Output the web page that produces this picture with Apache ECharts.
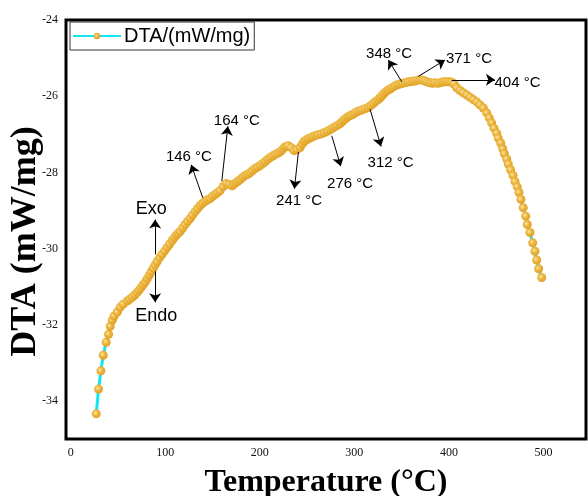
<!DOCTYPE html>
<html>
<head>
<meta charset="utf-8">
<script src="https://cdn.jsdelivr.net/npm/echarts@6/dist/echarts.min.js"></script>
<style>
  html, body { margin: 0; padding: 0; background: #fff; }
  #chart { width: 588px; height: 496px; }
</style>
</head>
<body>
<div id="chart"></div>
<script>
// temperature (°C) and DTA signal (mW/mg)
const temperature = [
  27.0, 29.4, 31.9, 34.4, 37.5, 40.0, 41.8, 43.9, 46.0, 49.2,
  52.3, 55.5, 59.7, 62.3, 65.0, 67.7, 70.3, 72.4, 74.5, 76.6,
  78.8, 80.9, 83.0, 85.1, 87.2, 89.3, 91.4, 94.0, 96.7, 99.4,
  102.0, 104.6, 107.3, 109.4, 111.5, 113.6, 115.8, 118.4, 121.0, 123.6,
  126.3, 128.9, 131.6, 134.2, 136.9, 139.5, 142.2, 144.8, 147.5, 150.1,
  152.8, 155.4, 158.0, 161.2, 164.4, 167.5, 170.7, 172.8, 174.9, 177.0,
  179.2, 181.8, 184.5, 187.1, 189.7, 192.3, 195.0, 197.6, 200.3, 203.0,
  205.6, 208.2, 210.9, 213.5, 216.2, 218.8, 221.5, 223.6, 225.7, 227.8,
  229.9, 233.1, 236.3, 239.4, 242.6, 244.7, 246.8, 249.0, 251.1, 253.7,
  256.3, 259.0, 261.6, 264.8, 268.0, 271.2, 274.3, 277.0, 279.6, 282.2,
  284.9, 287.0, 289.1, 291.2, 293.3, 295.4, 297.5, 300.2, 302.9, 305.5,
  308.1, 311.3, 314.5, 317.1, 319.8, 322.4, 325.1, 327.2, 329.3, 331.4,
  333.5, 335.6, 337.7, 340.3, 343.0, 345.6, 348.3, 351.0, 353.6, 356.2,
  358.9, 361.5, 364.2, 366.8, 369.5, 372.1, 374.7, 377.3, 380.0, 382.6,
  385.3, 388.0, 390.6, 393.2, 395.9, 398.5, 401.2, 403.3, 405.4, 408.2,
  411.7, 415.2, 418.8, 422.3, 425.8, 429.4, 432.8, 436.4, 440.0, 442.7,
  445.2, 447.7, 450.5, 452.2, 454.8, 456.9, 458.6, 461.1, 462.8, 465.3,
  467.8, 469.9, 472.3, 474.1, 476.2, 478.6, 481.2, 482.9, 485.7, 488.6,
  491.0, 492.8, 494.9, 498.1
];
const dta = [
  -34.34, -33.69, -33.21, -32.80, -32.46, -32.25, -32.04, -31.88, -31.77, -31.67,
  -31.54, -31.46, -31.38, -31.33, -31.28, -31.22, -31.15, -31.09, -31.02, -30.95,
  -30.88, -30.79, -30.70, -30.61, -30.52, -30.43, -30.34, -30.24, -30.15, -30.06,
  -29.97, -29.88, -29.79, -29.72, -29.65, -29.60, -29.55, -29.46, -29.37, -29.29,
  -29.21, -29.12, -29.03, -28.95, -28.87, -28.81, -28.76, -28.72, -28.69, -28.63,
  -28.58, -28.53, -28.48, -28.37, -28.29, -28.32, -28.35, -28.31, -28.27, -28.23,
  -28.19, -28.13, -28.08, -28.05, -28.01, -27.95, -27.90, -27.86, -27.82, -27.77,
  -27.72, -27.66, -27.61, -27.57, -27.53, -27.50, -27.46, -27.41, -27.35, -27.32,
  -27.30, -27.35, -27.43, -27.40, -27.35, -27.26, -27.19, -27.15, -27.12, -27.09,
  -27.06, -27.03, -27.01, -26.99, -26.96, -26.92, -26.88, -26.84, -26.80, -26.76,
  -26.72, -26.67, -26.62, -26.58, -26.54, -26.51, -26.49, -26.45, -26.41, -26.38,
  -26.36, -26.33, -26.30, -26.25, -26.20, -26.14, -26.09, -26.04, -25.99, -25.93,
  -25.88, -25.84, -25.81, -25.77, -25.73, -25.70, -25.68, -25.66, -25.65, -25.63,
  -25.62, -25.61, -25.60, -25.58, -25.57, -25.58, -25.60, -25.63, -25.65, -25.66,
  -25.65, -25.66, -25.65, -25.63, -25.62, -25.62, -25.62, -25.64, -25.68, -25.78,
  -25.85, -25.91, -25.97, -26.03, -26.09, -26.15, -26.23, -26.31, -26.44, -26.57,
  -26.70, -26.84, -26.97, -27.10, -27.23, -27.38, -27.51, -27.65, -27.78, -27.93,
  -28.08, -28.24, -28.38, -28.53, -28.71, -28.93, -29.15, -29.37, -29.58, -29.85,
  -30.07, -30.30, -30.53, -30.76
];

const yTicks = [-34, -32, -30, -28, -26, -24];
const xTicks = [0, 100, 200, 300, 400, 500];

// annotation arrows: [from, to] in data units
const peakArrows = [
  [[139.7, -28.67], [127.4, -27.80]],
  [[159.8, -28.23], [166.2, -26.79]],
  [[240.8, -27.47], [236.6, -28.43]],
  [[276.1, -27.04], [285.6, -27.84]],
  [[316.6, -26.34], [328.2, -27.32]],
  [[350.1, -25.62], [335.9, -25.05]],
  [[367.7, -25.48], [395.9, -25.05]],
  [[403.0, -25.57], [448.7, -25.57]],
  [[89.3, -30.15], [89.3, -29.24]],
  [[89.3, -30.60], [89.3, -31.41]]
];
const peakLabels = [
  ['146 °C', 125.0, -27.59],
  ['164 °C', 175.7, -26.64],
  ['241 °C', 241.5, -28.76],
  ['276 °C', 295.5, -28.29],
  ['312 °C', 338.3, -27.74],
  ['348 °C', 336.7, -24.89],
  ['371 °C', 421.2, -25.03],
  ['404 °C', 472.5, -25.66]
];
const sideLabels = [
  ['Exo', 85.1, -28.95],
  ['Endo', 90.4, -31.77]
];

const points = temperature.map((t, i) => [t, dta[i]]);

const chart = echarts.init(document.getElementById('chart'));

const ball = {
  type: 'radial', x: 0.4, y: 0.4, r: 0.6,
  colorStops: [
    {offset: 0, color: '#FCE6A8'},
    {offset: 0.45, color: '#EDB843'},
    {offset: 1, color: '#E0A024'}
  ]
};

const labelStyle = (size) => ({
  show: true,
  position: 'inside',
  formatter: '{b}',
  color: '#000',
  fontFamily: 'Liberation Sans, Arial, sans-serif',
  fontSize: size
});

chart.setOption({
  animation: false,
  backgroundColor: '#fff',
  grid: {
    left: 66, right: 2, top: 20, bottom: 57,
    containLabel: false,
    outerBoundsMode: 'none',
    show: true, borderColor: '#000', borderWidth: 3
  },
  legend: {
    data: ['DTA/(mW/mg)'],
    left: 70, top: 22,
    padding: [4, 4, 4, 2],
    borderColor: '#333', borderWidth: 1,
    itemWidth: 48, itemHeight: 8, itemGap: 3,
    textStyle: {
      fontFamily: 'Liberation Sans, Arial, sans-serif',
      fontSize: 20, color: '#000', padding: [0, 0, 0, -2]
    }
  },
  xAxis: {
    type: 'value',
    min: -5, max: 545, interval: 5,
    name: 'Temperature (°C)',
    nameLocation: 'middle',
    nameGap: 28,
    nameMoveOverlap: false,
    nameTextStyle: {
      fontFamily: 'Liberation Serif, Times New Roman, serif',
      fontWeight: 'bold', fontSize: 32, color: '#000'
    },
    axisLine: {show: false},
    axisTick: {show: false},
    splitLine: {show: false},
    axisLabel: {
      interval: 0,
      margin: 8,
      fontFamily: 'Liberation Serif, Times New Roman, serif',
      fontSize: 12, color: '#111',
      formatter: v => xTicks.includes(v) ? String(v) : ''
    }
  },
  yAxis: {
    type: 'value',
    min: -35, max: -24, interval: 1,
    name: 'DTA (mW/mg)',
    nameLocation: 'middle',
    nameGap: 22,
    nameMoveOverlap: false,
    nameTextStyle: {
      fontFamily: 'Liberation Serif, Times New Roman, serif',
      fontWeight: 'bold', fontSize: 36, color: '#000',
      padding: [0, 24, 0, 0]
    },
    axisLine: {show: false},
    axisTick: {show: false},
    splitLine: {show: false},
    axisLabel: {
      margin: 8,
      fontFamily: 'Liberation Serif, Times New Roman, serif',
      fontSize: 12, color: '#111',
      formatter: v => yTicks.includes(v) ? String(v) : ''
    }
  },
  series: [{
    name: 'DTA/(mW/mg)',
    type: 'line',
    data: points,
    symbol: 'circle',
    symbolSize: 9,
    showAllSymbol: true,
    lineStyle: {color: '#12E6F0', width: 3},
    itemStyle: {color: ball},
    markLine: {
      silent: true,
      symbol: ['none', 'arrow'],
      symbolSize: 9,
      label: {show: false},
      lineStyle: {color: '#000', width: 1, type: 'solid'},
      data: peakArrows.map(a => [{coord: a[0]}, {coord: a[1]}])
    },
    markPoint: {
      silent: true,
      symbol: 'rect',
      symbolSize: 1,
      itemStyle: {color: 'rgba(0,0,0,0)'},
      data: peakLabels.map(p => ({name: p[0], coord: [p[1], p[2]], label: labelStyle(15)}))
        .concat(sideLabels.map(p => ({name: p[0], coord: [p[1], p[2]], label: labelStyle(18)})))
    }
  }]
});
</script>
</body>
</html>
